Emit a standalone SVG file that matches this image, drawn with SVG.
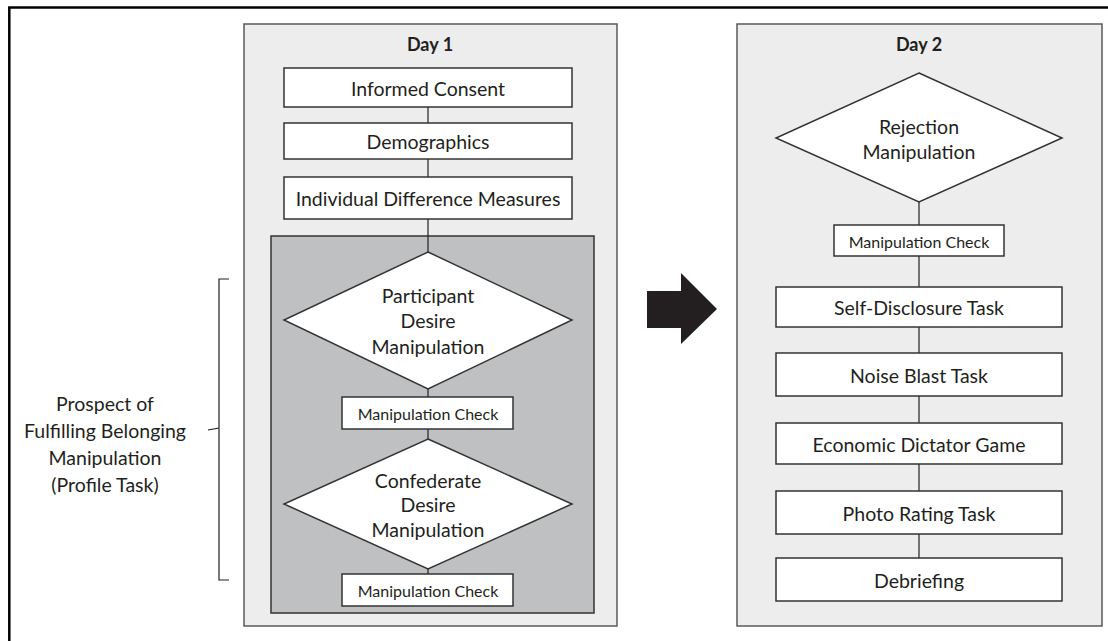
<svg xmlns="http://www.w3.org/2000/svg" width="1108" height="641" viewBox="0 0 1108 641">
<style>
text{font-family:Lato,"Open Sans","Liberation Sans",sans-serif;fill:#231f20;text-anchor:middle;dominant-baseline:central}
.t{font-size:19.5px}
.s{font-size:16px}
.h{font-size:18px;font-weight:bold}
.panel{fill:#ededed;stroke:#58595b;stroke-width:1.5}
.inner{fill:#bfc0c2;stroke:#333;stroke-width:1.5}
.box{fill:#fff;stroke:#333;stroke-width:1.5}
.conn line{stroke:#231f20;stroke-width:1.2}
.frame{stroke:#000;stroke-width:2.5;fill:none}
</style>
<rect width="1108" height="641" fill="#fff"/>
<path class="frame" d="M1108,7.5 H9.3 V641"/>

<g id="day1-panel">
<rect class="panel" x="244" y="24" width="373" height="602"/>
<text class="h" x="430" y="44">Day 1</text>
</g>
<g id="profile-task-group">
<rect class="inner" x="271" y="236" width="323" height="377"/>
</g>
<g id="day2-panel">
<rect class="panel" x="737" y="24" width="365" height="602"/>
<text class="h" x="919" y="44">Day 2</text>
</g>

<g class="conn" id="connectors">
<line x1="428" y1="107" x2="428" y2="123"/>
<line x1="428" y1="159" x2="428" y2="177"/>
<line x1="428" y1="219" x2="428" y2="252"/>
<line x1="428" y1="389" x2="428" y2="397"/>
<line x1="428" y1="429" x2="428" y2="439"/>
<line x1="428" y1="569" x2="428" y2="574"/>
<line x1="919" y1="202" x2="919" y2="225"/>
<line x1="919" y1="256" x2="919" y2="287"/>
<line x1="919" y1="327" x2="919" y2="353"/>
<line x1="919" y1="396" x2="919" y2="423"/>
<line x1="919" y1="464" x2="919" y2="491"/>
<line x1="919" y1="534" x2="919" y2="558"/>
</g>

<g id="informed-consent">
<rect class="box" x="284" y="68" width="288" height="39"/>
<text class="t" x="428" y="88">Informed Consent</text>
</g>
<g id="demographics">
<rect class="box" x="284" y="123" width="288" height="36"/>
<text class="t" x="428" y="141">Demographics</text>
</g>
<g id="individual-difference">
<rect class="box" x="284" y="177" width="288" height="42"/>
<text class="t" x="428" y="198">Individual Difference Measures</text>
</g>
<g id="participant-desire">
<polygon class="box" points="428,252 572,320 428,389 284,320"/>
<text class="t" x="428" y="295">Participant</text>
<text class="t" x="428" y="320">Desire</text>
<text class="t" x="428" y="346">Manipulation</text>
</g>
<g id="manip-check-1">
<rect class="box" x="342" y="397" width="171" height="32"/>
<text class="s" x="428" y="413">Manipulation Check</text>
</g>
<g id="confederate-desire">
<polygon class="box" points="428,439 572,504 428,569 284,504"/>
<text class="t" x="428" y="480">Confederate</text>
<text class="t" x="428" y="504">Desire</text>
<text class="t" x="428" y="529">Manipulation</text>
</g>
<g id="manip-check-2">
<rect class="box" x="342" y="574" width="171" height="32"/>
<text class="s" x="428" y="590">Manipulation Check</text>
</g>

<g id="profile-label">
<path d="M229,279 H219 V428 L208,430 M219,432 V580 H229 M219,428 V432" fill="none" stroke="#231f20" stroke-width="1.2"/>
<text class="t" x="105" y="403">Prospect of</text>
<text class="t" x="105" y="430">Fulfilling Belonging</text>
<text class="t" x="105" y="457">Manipulation</text>
<text class="t" x="105" y="484">(Profile Task)</text>
</g>

<g id="day-arrow">
<polygon points="647,291 681,291 681,273 717,309 681,344 681,328 647,328" fill="#231f20"/>
</g>

<g id="rejection">
<polygon class="box" points="919,73 1062,138 919,202 776,138"/>
<text class="t" x="919" y="126">Rejection</text>
<text class="t" x="919" y="151">Manipulation</text>
</g>
<g id="manip-check-3">
<rect class="box" x="834" y="225" width="170" height="31"/>
<text class="s" x="919" y="241">Manipulation Check</text>
</g>
<g id="self-disclosure">
<rect class="box" x="776" y="287" width="286" height="40"/>
<text class="t" x="919" y="307">Self-Disclosure Task</text>
</g>
<g id="noise-blast">
<rect class="box" x="776" y="353" width="286" height="43"/>
<text class="t" x="919" y="375">Noise Blast Task</text>
</g>
<g id="dictator-game">
<rect class="box" x="776" y="423" width="286" height="41"/>
<text class="t" x="919" y="444">Economic Dictator Game</text>
</g>
<g id="photo-rating">
<rect class="box" x="776" y="491" width="286" height="43"/>
<text class="t" x="919" y="513">Photo Rating Task</text>
</g>
<g id="debriefing">
<rect class="box" x="776" y="558" width="286" height="43"/>
<text class="t" x="919" y="580">Debriefing</text>
</g>
</svg>
